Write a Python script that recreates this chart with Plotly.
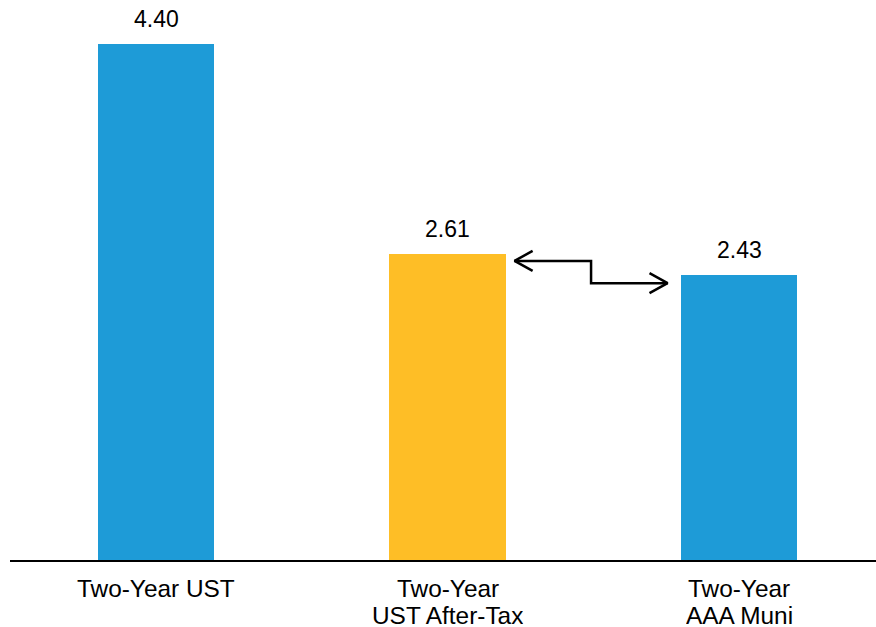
import plotly.graph_objects as go

categories = ["Two-Year UST", "Two-Year", "Two-Year"]
categories_line2 = ["", "UST After-Tax", "AAA Muni"]
values = [4.40, 2.61, 2.43]
labels = ["4.40", "2.61", "2.43"]
colors = ["#1E9BD7", "#FEBE26", "#1E9BD7"]

BAR_W = 0.40
FONT = "Liberation Sans, Arial, sans-serif"

xi = list(range(len(categories)))

fig = go.Figure()
fig.add_trace(go.Bar(
    x=xi, y=values, width=BAR_W, marker=dict(color=colors, line=dict(width=0)),
    hoverinfo="skip", showlegend=False,
))

# value labels
for i, (v, t) in enumerate(zip(values, labels)):
    fig.add_annotation(x=i, y=v, text=t, showarrow=False, xref="x", yref="y",
                       yanchor="middle", yshift=25,
                       font=dict(family=FONT, size=23, color="#000000"))

# category labels (two lines, tight line spacing)
for i, (l1, l2) in enumerate(zip(categories, categories_line2)):
    fig.add_annotation(x=i, y=0, text=l1, showarrow=False, xref="x", yref="paper",
                       yanchor="middle", yshift=-28,
                       font=dict(family=FONT, size=24.4, color="#000000"))
    if l2:
        fig.add_annotation(x=i, y=0, text=l2, showarrow=False, xref="x", yref="paper",
                           yanchor="middle", yshift=-55, height=22,
                           font=dict(family=FONT, size=24.4, color="#000000"))

# connector arrow between bar 2 and bar 3
x_left = 1 + BAR_W / 2 + 0.03
x_right = 2 - BAR_W / 2 - 0.045
x_mid = (x_left + x_right) / 2
y_left = values[1] - 0.06
y_right = values[2] - 0.07
dx = 0.062   # arrowhead arm horizontal extent (data units)
dy = 0.085   # arrowhead arm vertical extent (data units)
arrow_x = [x_left, x_mid, x_mid, x_right, None,
           x_left + dx, x_left, x_left + dx, None,
           x_right - dx, x_right, x_right - dx]
arrow_y = [y_left, y_left, y_right, y_right, None,
           y_left + dy, y_left, y_left - dy, None,
           y_right + dy, y_right, y_right - dy]
fig.add_trace(go.Scatter(x=arrow_x, y=arrow_y, mode="lines",
                         line=dict(color="#000000", width=2.5),
                         hoverinfo="skip", showlegend=False))

fig.update_layout(
    width=876, height=627,
    margin=dict(l=10, r=0, t=0, b=67),
    paper_bgcolor="white", plot_bgcolor="white",
    font=dict(family=FONT, size=23, color="#000000"),
    xaxis=dict(
        range=[-0.5009, 2.470], tickmode="array", tickvals=xi,
        showticklabels=False, ticks="",
        showgrid=False, zeroline=False, showline=True, linecolor="#000000", linewidth=2,
        fixedrange=True,
    ),
    yaxis=dict(range=[0, 4.774], visible=False, fixedrange=True),
    bargap=0,
)

fig.write_html("out.html", config={"displayModeBar": False},
               post_script="document.body.style.margin='0';document.body.style.overflow='hidden';")
